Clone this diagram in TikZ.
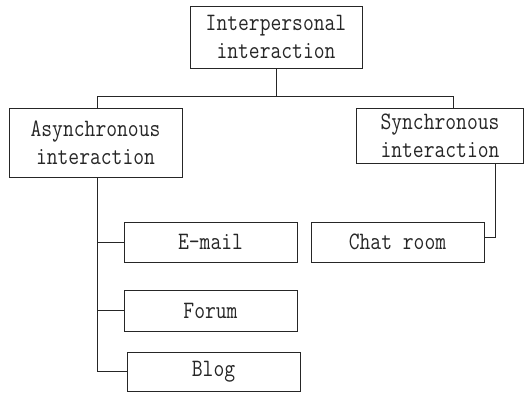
\documentclass[tikz,border=0pt]{standalone}
\usepackage{fontspec}
\setmonofont{Latin Modern Mono}[FakeStretch=0.84]
\begin{document}
\begin{tikzpicture}[x=1pt,y=-1pt,
  box/.style={draw=black!85,line width=0.8pt,inner sep=0pt,align=center,
    font=\ttfamily\fontsize{25}{28}\selectfont,text=black!85},
  conn/.style={draw=black!85,line width=0.8pt}]
\useasboundingbox (0,0) rectangle (524,392);
\node[box,minimum width=172,minimum height=62] (top) at (276,37) {Interpersonal\\interaction};
\node[box,minimum width=173,minimum height=69] (async) at (95.5,142.5) {Asynchronous\\interaction};
\node[box,minimum width=167,minimum height=55] (sync) at (440,135.5) {Synchronous\\interaction};
\node[box,minimum width=173,minimum height=40] (email) at (210.5,242) {E-mail};
\node[box,minimum width=173,minimum height=41] (forum) at (210.5,310.5) {Forum};
\node[box,minimum width=173,minimum height=39] (blog) at (213.5,371.5) {Blog};
\node[box,minimum width=173,minimum height=40] (chat) at (397.5,242) {Chat room};
\coordinate (busL) at (97,96);
\coordinate (busR) at (453,96);
\coordinate (cR) at (495,237);
\draw[conn] (top.south) -- (top.south |- busL);
\draw[conn] (busL) -- (busR);
\draw[conn] (busL) -- (busL |- async.north);
\draw[conn] (busR) -- (busR |- sync.north);
\draw[conn] (busL |- async.south) -- (busL |- blog.west);
\draw[conn] (busL |- email.west) -- (email.west);
\draw[conn] (busL |- forum.west) -- (forum.west);
\draw[conn] (busL |- blog.west) -- (blog.west);
\draw[conn] (chat.east |- cR) -- (cR) -- (cR |- sync.south);
\end{tikzpicture}
\end{document}
